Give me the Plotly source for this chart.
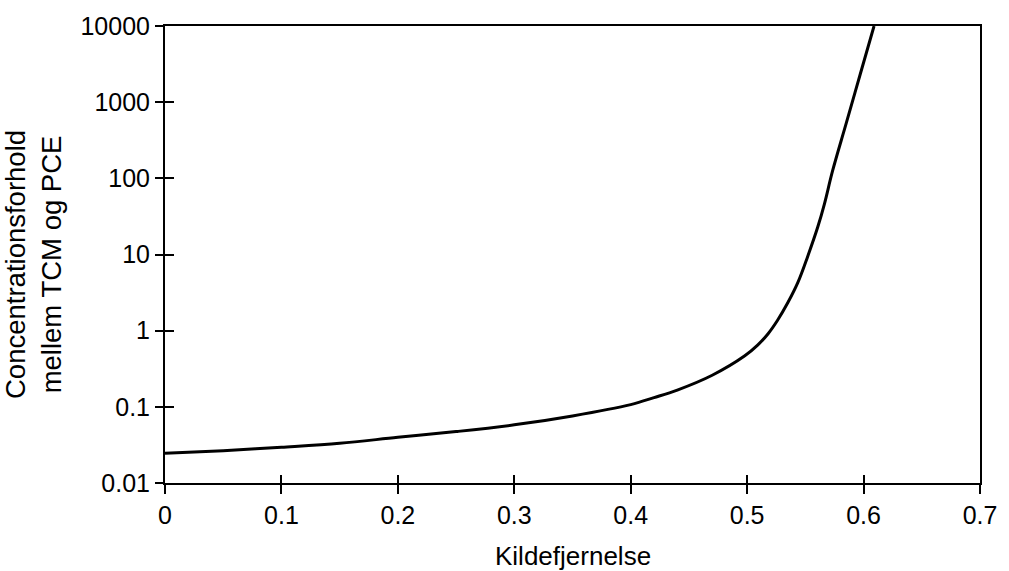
import plotly.graph_objects as go

# Data
kildefjernelse = [0.0, 0.05, 0.10, 0.15, 0.20, 0.25, 0.30, 0.35, 0.40, 0.42, 0.44, 0.47,
                  0.498, 0.509, 0.518, 0.526, 0.535, 0.5435, 0.552, 0.5607, 0.5664,
                  0.5733, 0.585, 0.597, 0.609]
forhold = [0.0245, 0.0266, 0.0295, 0.0332, 0.0398, 0.0473, 0.058, 0.076, 0.107, 0.132, 0.166, 0.26,
           0.468, 0.646, 0.912, 1.36, 2.34, 4.27, 9.44, 23.1, 46.3,
           124.0, 522.0, 2290.0, 10000.0]

x_ticks = [0.0, 0.1, 0.2, 0.3, 0.4, 0.5, 0.6, 0.7]
x_ticktext = ["0", "0.1", "0.2", "0.3", "0.4", "0.5", "0.6", "0.7"]
y_ticks = [0.01, 0.1, 1, 10, 100, 1000, 10000]
y_ticktext = ["0.01", "0.1", "1", "10", "100", "1000", "10000"]

FONT = "Liberation Sans, Arial, Helvetica, sans-serif"

fig = go.Figure()
fig.add_trace(go.Scatter(x=kildefjernelse, y=forhold, mode="lines",
                         line=dict(color="black", width=3, shape="spline", smoothing=1.0),
                         showlegend=False, hoverinfo="skip"))
# invisible copy on overlay axes (for inward tick halves)
fig.add_trace(go.Scatter(x=kildefjernelse, y=forhold, mode="lines", xaxis="x2", yaxis="y2",
                         line=dict(color="rgba(0,0,0,0)", width=1),
                         showlegend=False, hoverinfo="skip"))

tick_font = dict(family=FONT, size=25, color="black")

fig.update_layout(
    width=1009, height=571,
    margin=dict(l=165, r=25, t=17, b=88),
    paper_bgcolor="white", plot_bgcolor="white",
    font=tick_font,
    xaxis=dict(range=[0, 0.7], tickvals=x_ticks, ticktext=x_ticktext,
               ticks="outside", ticklen=9, tickwidth=2, tickcolor="black",
               showline=True, linewidth=2, linecolor="black", mirror=True,
               showgrid=False, zeroline=False, tickfont=tick_font),
    yaxis=dict(type="log", range=[-2, 4], tickvals=y_ticks, ticktext=y_ticktext,
               ticks="outside", ticklen=8, tickwidth=2, tickcolor="black",
               showline=True, linewidth=2, linecolor="black", mirror=True,
               showgrid=False, zeroline=False, tickfont=tick_font),
    xaxis2=dict(range=[0, 0.7], tickvals=x_ticks, overlaying="x", anchor="y2",
                ticks="inside", ticklen=8, tickwidth=2, tickcolor="black",
                showticklabels=False, showline=False, showgrid=False, zeroline=False),
    yaxis2=dict(type="log", range=[-2, 4], tickvals=y_ticks[:-1], overlaying="y", anchor="x2",
                ticks="inside", ticklen=9, tickwidth=2, tickcolor="black",
                showticklabels=False, showline=False, showgrid=False, zeroline=False),
    annotations=[
        dict(text="Kildefjernelse", xref="paper", yref="paper", x=0.5, y=0,
             xanchor="center", yanchor="top", yshift=-56, showarrow=False,
             font=dict(family=FONT, size=26, color="black")),
        dict(text="Concentrationsforhold<br>mellem TCM og PCE", xref="paper", yref="paper",
             x=0, y=0.5, xanchor="right", yanchor="middle", xshift=-96, yshift=-10,
             textangle=-90, showarrow=False,
             font=dict(family=FONT, size=27.5, color="black")),
    ],
)

fig.write_html("out.html", config={"displayModeBar": False},
               post_script="document.body.style.margin='0';document.body.style.overflow='hidden';")
